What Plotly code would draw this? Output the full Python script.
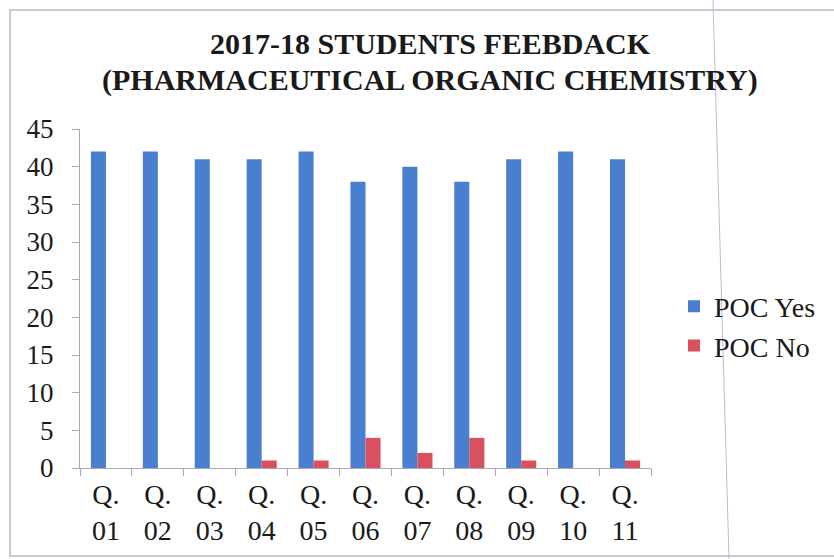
import plotly.graph_objects as go

categories = ["Q.<br>01", "Q.<br>02", "Q.<br>03", "Q.<br>04", "Q.<br>05", "Q.<br>06",
              "Q.<br>07", "Q.<br>08", "Q.<br>09", "Q.<br>10", "Q.<br>11"]
poc_yes = [42, 42, 41, 41, 42, 38, 40, 38, 41, 42, 41]
poc_no = [0, 0, 0, 1, 1, 4, 2, 4, 1, 0, 1]
y_ticks = [0, 5, 10, 15, 20, 25, 30, 35, 40, 45]
title_lines = ["2017-18 STUDENTS FEEBDACK", "(PHARMACEUTICAL ORGANIC CHEMISTRY)"]

W, H = 834, 559
L, R, T, B = 80, 183, 129, 91
pw, ph = W - L - R, H - T - B

def px_x(p):
    return (p - L) / pw

def px_y(p):
    return (H - B - p) / ph

FONT = "Liberation Serif"

fig = go.Figure()
fig.add_trace(go.Bar(x=categories, y=poc_yes, name="POC Yes", marker=dict(color="#4A7FD0", line=dict(width=0))))
fig.add_trace(go.Bar(x=categories, y=poc_no, name="POC No", marker=dict(color="#D9505E", line=dict(width=0))))

fig.update_layout(
    width=W, height=H,
    margin=dict(l=L, r=R, t=T, b=B),
    paper_bgcolor="white", plot_bgcolor="white",
    barmode="group", bargap=0.42, bargroupgap=0,
    font=dict(family=FONT, size=26, color="#1a1a1a"),
    legend=dict(
        x=px_x(674), y=px_y(326), xanchor="left", yanchor="middle",
        font=dict(family=FONT, size=28, color="#1a1a1a"),
        bgcolor="rgba(0,0,0,0)", itemwidth=30, tracegroupgap=0,
    ),
    showlegend=True,
)
for line, cy in zip(title_lines, [44, 80]):
    fig.add_annotation(
        text="<b>%s</b>" % line, xref="paper", yref="paper",
        x=px_x(430), y=px_y(cy), xanchor="center", yanchor="middle",
        showarrow=False, font=dict(family=FONT, size=30, color="#1a1a1a"),
    )
fig.update_xaxes(
    showgrid=False, showline=True, linecolor="#a8a8b8", linewidth=1,
    ticks="outside", tickson="boundaries", ticklen=7, tickcolor="#a8a8b8",
    tickfont=dict(family=FONT, size=28, color="#1a1a1a"), tickangle=0,
    ticklabelstandoff=1,
)
fig.update_yaxes(
    range=[0, 45], tickvals=y_ticks, showgrid=False, zeroline=False,
    showline=True, linecolor="#a8a8b8", linewidth=1,
    ticks="outside", ticklen=7, tickcolor="#a8a8b8", ticklabelstandoff=13,
    tickfont=dict(family=FONT, size=27, color="#1a1a1a"),
)

# chart border and scan line
fig.add_shape(type="rect", xref="paper", yref="paper",
              x0=px_x(10), x1=px_x(840), y0=px_y(556), y1=px_y(10),
              line=dict(color="#c8c8d6", width=2), layer="below")
fig.add_shape(type="line", xref="paper", yref="paper",
              x0=px_x(713), x1=px_x(729), y0=px_y(0), y1=px_y(559),
              line=dict(color="#c4b4d4", width=1), layer="above")

fig.write_html("out.html", config={"displayModeBar": False},
               post_script="document.body.style.margin='0';document.body.style.padding='0';")
